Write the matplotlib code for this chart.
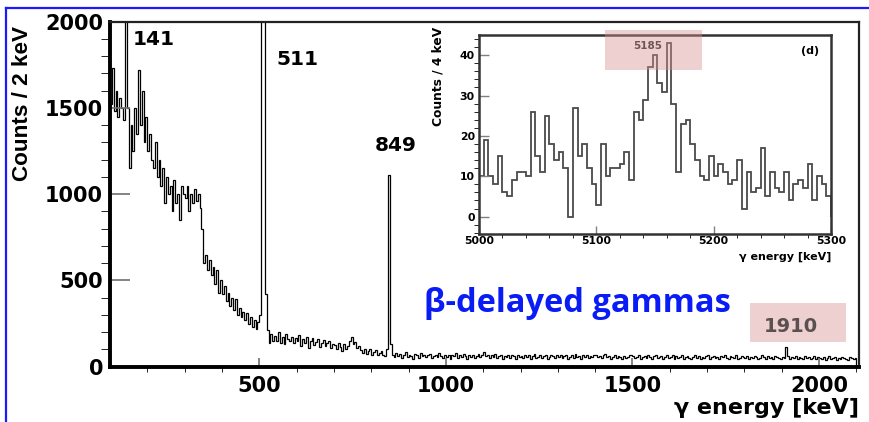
import matplotlib
matplotlib.use("Agg")
import matplotlib.pyplot as plt
from matplotlib.lines import Line2D
from matplotlib.patches import Rectangle
import numpy as np

plt.rcParams['font.family'] = ['DejaVu Sans']
plt.rcParams['font.weight'] = 'bold'

# main spectrum, 5 keV bins from 100 to 2100 keV
e_start, e_stop, e_bin = 100, 2100, 5
seg_100_140 = [1520, 1730, 1480, 1600, 1450, 1560, 1500, 1430]
seg_141_peak = [2600]
seg_145_350 = [1500, 1150, 1400, 1250, 1500, 1350, 1720, 1400, 1600, 1300,
               1450, 1250, 1350, 1200, 1150, 1300, 1100, 1200, 1050, 1150,
               950, 1100, 1000, 1050, 900, 1080, 950, 1000, 850, 1050,
               1000, 980, 1050, 900, 1000, 950, 1030, 960, 1000, 920, 800]
seg_350_505 = [600, 650, 560, 620, 530, 580, 480, 560, 430, 500,
               420, 470, 380, 430, 350, 400, 330, 390, 300, 340,
               290, 320, 270, 310, 250, 290, 230, 270, 220, 260, 300]
seg_511_peak = [3000, 3000, 420, 210]
seg_525_600 = [140, 190, 150,
               180, 150, 200, 140, 170, 130, 190, 160, 150, 175, 135, 165]
seg_600_700 = [150, 185, 120, 160, 140, 170, 110, 150, 165, 125,
               145, 160, 115, 140, 155, 120, 135, 150, 110, 130]
seg_700_845 = [125, 100, 140, 115, 90, 130, 105, 120,
               150, 170, 130, 145, 110, 120,
               95, 80, 100, 75, 90, 105, 70, 85, 95, 65, 80, 90, 70, 60, 100]
seg_849_peak = [1110, 130]
seg_855_1000 = [70, 55, 80, 60, 75, 50, 65, 85, 55, 70, 60, 45, 75, 65, 50,
                80, 60, 70, 55, 65, 75, 50, 60, 70, 55, 80, 60, 50, 65]
seg_1000_2100 = [
    55, 70, 45, 65, 60, 80, 50, 65, 55, 75, 60, 45, 70, 55, 65, 50, 60, 75, 55, 65,
    85, 60, 70, 50, 65, 55, 75, 50, 60, 70, 45, 60, 55, 70, 50, 65, 60, 45, 70, 55,
    60, 50, 65, 55, 70, 45, 60, 75, 50, 55, 65, 50, 60, 70, 45, 55, 65, 60, 50, 70,
    55, 65, 50, 60, 70, 45, 55, 65, 50, 75, 55, 60, 45, 65, 55, 70, 50, 60, 55, 65,
    70, 55, 60, 50, 65, 75, 55, 60, 45, 55, 65, 50, 60, 55, 45, 60, 50, 55, 65, 70,
    60, 50, 55, 65, 45, 55, 60, 50, 65, 55, 45, 60, 70, 50, 55, 60, 45, 55, 65, 50,
    55, 65, 45, 60, 50, 55, 65, 45, 55, 60, 50, 45, 55, 65, 50, 60, 45, 55, 50, 60,
    65, 45, 55, 60, 50, 55, 45, 60, 55, 65, 50, 45, 60, 55, 50, 65, 45, 50, 60, 55,
    50, 60, 45, 55, 50, 60, 55, 45, 50, 65, 55, 45, 60, 50, 55, 45, 60, 55, 50, 45,
    55, 50, 115, 60, 45, 55, 50, 60, 45, 55, 50, 45, 60, 50, 55, 45, 50, 60, 45, 55,
    50, 45, 55, 40, 50, 60, 45, 50, 55, 40, 50, 45, 55, 50, 45, 40, 55, 50, 45, 50]

main_counts = np.array(seg_100_140 + seg_141_peak + seg_145_350 + seg_350_505
                       + seg_511_peak + seg_525_600 + seg_600_700 + seg_700_845
                       + seg_849_peak + seg_855_1000 + seg_1000_2100)
main_edges = np.arange(e_start, e_stop + e_bin, e_bin)

# inset spectrum, 4 keV bins from 5000 to 5300 keV
inset_start, inset_stop, inset_bin = 5000, 5300, 4
inset_counts = [10, 19, 10, 8, 15, 6, 5, 9, 11, 11,
                10, 26, 15, 11, 25, 18, 14, 16, 12, 0,
                27, 15, 18, 12, 8, 3, 18, 10, 12, 12,
                13, 16, 9, 26, 24, 29, 37, 40, 33, 31,
                43, 28, 11, 23, 24, 18, 14, 10, 9, 15,
                10, 13, 11, 8, 9, 14, 2, 11, 6, 7,
                17, 5, 11, 7, 6, 11, 4, 8, 9, 7,
                13, 4, 10, 8, 5]
inset_edges = np.arange(inset_start, inset_stop + inset_bin, inset_bin)

peak_labels = ['141', '511', '849']
peak_label_pos = [(162, 1897), (547, 1778), (810, 1280)]

W, H = 870, 422
fig = plt.figure(figsize=(W / 100, H / 100), dpi=100)

def frac(x0, y0, x1, y1):
    return [x0 / W, 1 - y1 / H, (x1 - x0) / W, (y1 - y0) / H]

# main axes
ax = fig.add_axes(frac(110, 21.7, 859, 366.7))
ax.stairs(main_counts, main_edges, color='black', lw=0.9)
ax.set_xlim(100, 2107)
ax.set_ylim(0, 2000)
ax.set_xticks([500, 1000, 1500, 2000])
ax.set_xticks(np.arange(200, 2101, 100), minor=True)
ax.set_yticks([0, 500, 1000, 1500, 2000])
ax.set_yticks(np.arange(0, 2001, 100), minor=True)
ax.tick_params(axis='both', direction='in', color='#707070', width=1.2,
               labelsize=15)
ax.tick_params(axis='y', which='major', length=14.5, pad=5)
ax.tick_params(axis='y', which='minor', length=6.5)
ax.tick_params(axis='x', which='major', length=6.5, pad=7)
ax.tick_params(axis='x', which='minor', length=3.6)
ax.tick_params(top=False, right=False, which='both')
for side in ['left', 'bottom']:
    ax.spines[side].set_linewidth(2.8)
for side in ['top', 'right']:
    ax.spines[side].set_linewidth(1.6)
    ax.spines[side].set_color('#222222')

ax.set_ylabel('Counts / 2 keV', fontsize=16.2, fontweight='bold',
              family=['Liberation Sans', 'DejaVu Sans'])
ax.yaxis.set_label_coords(-0.1168, 0.764)
ax.yaxis.label.set_va('center')
ax.set_xlabel('\u03b3 energy [keV]', fontsize=16, fontweight='bold')
ax.xaxis.set_label_coords(1.0, -0.12)
ax.xaxis.label.set_ha('right')
ax.xaxis.label.set_va('center')

for lab, (px, py) in zip(peak_labels, peak_label_pos):
    ax.text(px, py, lab, fontsize=14.5, fontweight='bold', ha='left', va='center')

# blue title text
fig.text(577 / W, 1 - 303 / H, '\u03b2-delayed gammas', fontsize=23.5,
         fontweight='bold', family=['Open Sans', 'DejaVu Sans'], color='#0a1cf5',
         ha='center', va='center')

# inset
axi = fig.add_axes(frac(479, 35, 831, 234))
axi.stairs(inset_counts, inset_edges, color='#4a4a4a', lw=1.3)
axi.set_xlim(inset_start, inset_stop)
axi.set_ylim(-4.3, 45)
axi.set_xticks([5000, 5100, 5200, 5300])
axi.set_xticks(np.arange(5000, 5301, 20), minor=True)
axi.set_yticks([0, 10, 20, 30, 40])
axi.set_yticks(np.arange(-4, 45, 2), minor=True)
axi.tick_params(axis='both', direction='in', color='#808080', width=1.0,
                labelsize=7.8)
axi.tick_params(axis='y', which='major', length=7, pad=3)
axi.tick_params(axis='y', which='minor', length=3.5)
axi.tick_params(axis='x', which='major', length=5.5, pad=1.5)
axi.tick_params(axis='x', which='minor', length=3)
axi.tick_params(top=False, right=False, which='both')
for s in axi.spines.values():
    s.set_linewidth(1.8)
    s.set_color('#333333')
axi.set_ylabel('Counts / 4 keV', fontsize=8.8, fontweight='bold')
axi.yaxis.set_label_coords(-0.1165, 0.79)
axi.yaxis.label.set_va('center')
axi.set_xlabel('\u03b3 energy [keV]', fontsize=8, fontweight='bold')
axi.xaxis.set_label_coords(1.0, -0.115)
axi.xaxis.label.set_ha('right')
axi.xaxis.label.set_va('center')
axi.text(0.965, 0.92, '(d)', transform=axi.transAxes, fontsize=8,
         fontweight='bold', ha='right', va='center')

# pink highlight boxes
fig.patches.append(Rectangle((605 / W, 1 - 70 / H), 97 / W, 40 / H,
                             transform=fig.transFigure, facecolor='#d98f8f',
                             alpha=0.42, edgecolor='none', zorder=5))
fig.text(648 / W, 1 - 46 / H, '5185', fontsize=7.5, fontweight='bold',
         color='#6e5656', ha='center', va='center', zorder=6)
fig.patches.append(Rectangle((750 / W, 1 - 342 / H), 96 / W, 39 / H,
                             transform=fig.transFigure, facecolor='#d98f8f',
                             alpha=0.42, edgecolor='none', zorder=5))
fig.text(791 / W, 1 - 326 / H, '1910', fontsize=14, fontweight='bold',
         color='#5a5050', ha='center', va='center', zorder=6)

# blue slide frame
fig.add_artist(Line2D([6 / W, 6 / W], [0, 1 - 7.5 / H], color='#1a1aff',
                      lw=1.6, transform=fig.transFigure))
fig.add_artist(Line2D([6 / W, 1], [1 - 7.5 / H, 1 - 7.5 / H], color='#1a1aff',
                      lw=1.6, transform=fig.transFigure))

fig.savefig('out.png', dpi=100)
